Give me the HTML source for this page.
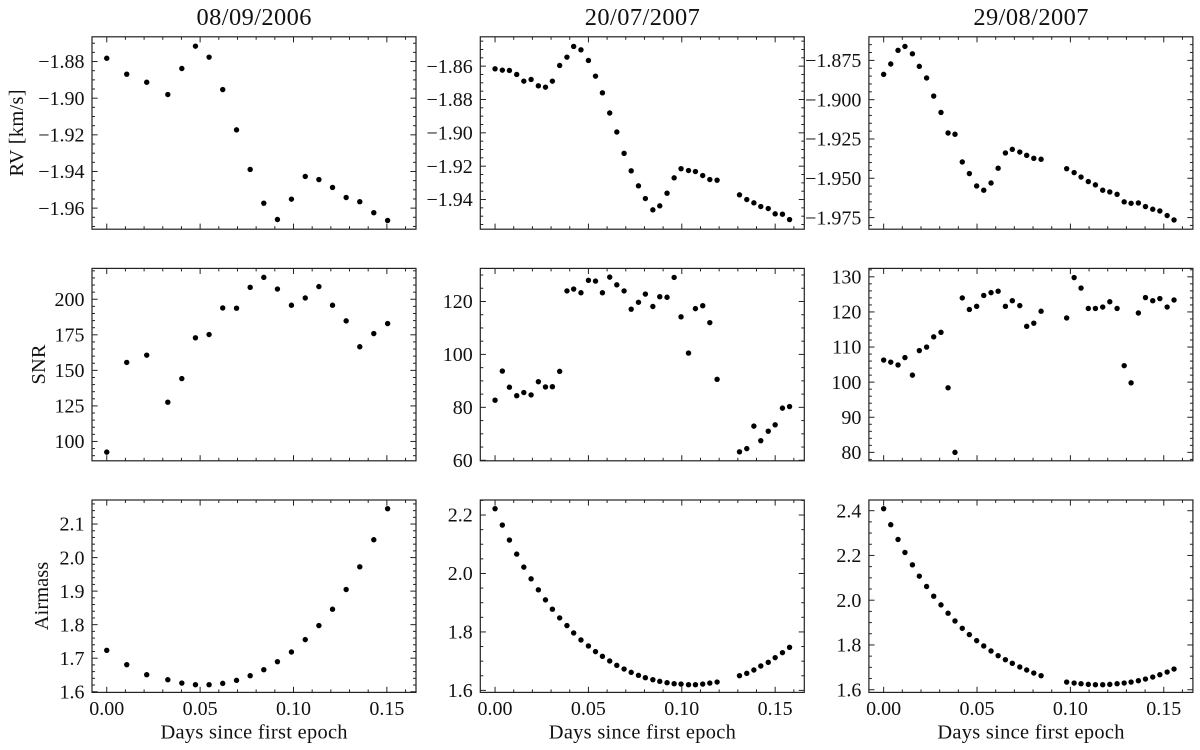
<!DOCTYPE html>
<html lang="en">
<head>
<meta charset="utf-8">
<title>RV, SNR and Airmass by epoch</title>
<style>
html,body{margin:0;padding:0;background:#fff;}
svg{display:block;}
text{font-family:"Liberation Serif",serif;fill:#111;}
.tick-text{font-size:20px;}
.axis-text{font-size:20.4px;}
.title-text{font-size:24.4px;}
</style>
</head>
<body>
<svg id="chart" xmlns="http://www.w3.org/2000/svg" width="1200" height="750" viewBox="0 0 1200 750"></svg>
<script>
// ---------- shared x domain ----------
const xLimits = [-0.0079, 0.1656];
const xTicks = ['0.00', '0.05', '0.10', '0.15'];
const xMinorStep = 0.01;

// ---------- epochs ----------
const epochs = ['08/09/2006', '20/07/2007', '29/08/2007'];

const days2006 = [0, .0107, .0214, .0327, .0402, .0475, .0548, .0621, .0695, .0768, .0841, .0914, .0989, .1063, .1136, .1209, .1282, .1355, .143, .1504];
const days2007a = [0, .0039, .0077, .0116, .0154, .0193, .0232, .027, .0307, .0346, .0385, .0421, .046, .05, .0538, .0575, .0614, .0652, .0691, .0729, .0768, .0805, .0845, .0882, .0921, .0959, .0996, .1036, .1073, .1112, .115, .1189, .1309, .1348, .1386, .1423, .1463, .15, .1539, .1577];
const days2007b = [0, .0038, .0077, .0114, .0154, .0191, .023, .0268, .0307, .0345, .0382, .0421, .0459, .0498, .0536, .0575, .0613, .0652, .0689, .0729, .0766, .0804, .0843, .098, .102, .1057, .1096, .1134, .1173, .1211, .125, .1288, .1325, .1364, .1402, .1441, .1479, .1518, .1555];

// ---------- RV [km/s] ----------
const rv2006 = [-1.8782, -1.8869, -1.8913, -1.898, -1.8838, -1.8716, -1.8776, -1.8953, -1.9173, -1.9389, -1.9573, -1.9662, -1.9551, -1.9427, -1.9444, -1.9487, -1.9542, -1.9565, -1.9625, -1.9667];
const rv2007a = [-1.8616, -1.8624, -1.8626, -1.865, -1.869, -1.868, -1.8718, -1.8726, -1.869, -1.8596, -1.8546, -1.8482, -1.8502, -1.8566, -1.866, -1.876, -1.8881, -1.8995, -1.9123, -1.9228, -1.9318, -1.9394, -1.9462, -1.9438, -1.9362, -1.927, -1.9215, -1.9226, -1.9232, -1.9256, -1.928, -1.9284, -1.9372, -1.94, -1.942, -1.9442, -1.9454, -1.9486, -1.9488, -1.952];
const rv2007b = [-1.8839, -1.8773, -1.8686, -1.8661, -1.8708, -1.8788, -1.8862, -1.8977, -1.9081, -1.9212, -1.922, -1.9396, -1.947, -1.9549, -1.9576, -1.953, -1.9436, -1.9339, -1.9316, -1.9333, -1.9354, -1.9373, -1.9379, -1.9439, -1.9464, -1.9492, -1.9521, -1.9542, -1.9576, -1.9587, -1.9602, -1.965, -1.9659, -1.9657, -1.968, -1.9697, -1.9708, -1.9737, -1.9765];

// ---------- SNR ----------
const snr2006 = [92.5, 155.6, 160.7, 127.6, 144.2, 172.9, 175.2, 193.9, 193.7, 208.4, 215.4, 207.2, 195.8, 200.9, 208.9, 195.8, 184.8, 166.6, 175.9, 182.9];
const snr2007a = [82.7, 93.7, 87.6, 84.4, 85.6, 84.7, 89.7, 87.7, 87.8, 93.6, 124, 124.7, 123.3, 128, 127.7, 123.3, 129.2, 126.3, 124, 117.1, 119.7, 122.8, 118.1, 121.8, 121.6, 129.1, 114.2, 100.5, 117.3, 118.4, 112, 90.6, 63.2, 64.4, 72.9, 67.4, 71, 73.4, 79.7, 80.3];
const snr2007b = [106.3, 105.7, 104.9, 107, 102, 109, 110, 112.9, 114.2, 98.4, 80, 124, 120.7, 121.6, 124.7, 125.5, 125.9, 121.6, 123.2, 121.8, 115.9, 116.8, 120.2, 118.3, 129.8, 126.8, 121, 121, 121.4, 122.9, 121, 104.7, 99.8, 119.7, 124.1, 123.2, 123.8, 121.4, 123.4];

// ---------- Airmass ----------
const air2006 = [1.7235, 1.6807, 1.6508, 1.6359, 1.6259, 1.6209, 1.6209, 1.6249, 1.6339, 1.6478, 1.6657, 1.6896, 1.7185, 1.7554, 1.7972, 1.846, 1.9048, 1.9725, 2.0532, 2.1458];
const air2007a = [2.2217, 2.1657, 2.1143, 2.0663, 2.0217, 1.9817, 1.944, 1.9097, 1.8777, 1.848, 1.8217, 1.7966, 1.7726, 1.752, 1.7326, 1.7166, 1.7006, 1.6857, 1.6731, 1.6617, 1.6514, 1.6434, 1.6366, 1.6309, 1.6263, 1.6229, 1.6217, 1.6194, 1.6194, 1.6217, 1.6251, 1.6286, 1.6503, 1.6583, 1.6697, 1.6834, 1.696, 1.712, 1.7291, 1.7474];
const air2007b = [2.409, 2.3373, 2.2716, 2.2134, 2.1582, 2.1075, 2.0612, 2.0179, 1.9791, 1.9418, 1.9075, 1.8746, 1.8463, 1.8194, 1.7955, 1.7731, 1.7522, 1.7343, 1.7179, 1.7015, 1.6881, 1.6746, 1.6627, 1.6343, 1.6299, 1.6269, 1.6239, 1.6224, 1.6224, 1.6239, 1.6269, 1.6299, 1.6343, 1.6403, 1.6478, 1.6567, 1.6672, 1.6791, 1.6925];

// ---------- y axis limits ----------
const rvLimits2006 = [-1.9715, -1.8665];
const rvLimits2007a = [-1.9578, -1.8424];
const rvLimits2007b = [-1.9824, -1.86];
const snrLimits2006 = [86.4, 221.7];
const snrLimits2007a = [59.8, 132.5];
const snrLimits2007b = [77.6, 132.4];
const airLimits2006 = [1.598, 2.1717];
const airLimits2007a = [1.5931, 2.2514];
const airLimits2007b = [1.588, 2.4478];

// ---------- y tick labels ----------
const rvTicks2006 = ['-1.88', '-1.90', '-1.92', '-1.94', '-1.96'];
const rvTicks2007a = ['-1.86', '-1.88', '-1.90', '-1.92', '-1.94'];
const rvTicks2007b = ['-1.875', '-1.900', '-1.925', '-1.950', '-1.975'];
const snrTicks2006 = ['100', '125', '150', '175', '200'];
const snrTicks2007a = ['60', '80', '100', '120'];
const snrTicks2007b = ['80', '90', '100', '110', '120', '130'];
const airTicks2006 = ['1.6', '1.7', '1.8', '1.9', '2.0', '2.1'];
const airTicks2007a = ['1.6', '1.8', '2.0', '2.2'];
const airTicks2007b = ['1.6', '1.8', '2.0', '2.2', '2.4'];

// ---------- minor tick subdivisions per major interval ----------
const rvSubs = [4, 4, 5];
const snrSubs = [5, 4, 5];
const airSubs = [5, 4, 4];

const metricNames = ['rv', 'snr', 'airmass'];
const daysByColumn = [days2006, days2007a, days2007b];
const valuesByRow = [[rv2006, rv2007a, rv2007b], [snr2006, snr2007a, snr2007b], [air2006, air2007a, air2007b]];
const limitsByRow = [[rvLimits2006, rvLimits2007a, rvLimits2007b], [snrLimits2006, snrLimits2007a, snrLimits2007b], [airLimits2006, airLimits2007a, airLimits2007b]];
const ticksByRow = [[rvTicks2006, rvTicks2007a, rvTicks2007b], [snrTicks2006, snrTicks2007a, snrTicks2007b], [airTicks2006, airTicks2007a, airTicks2007b]];
const subsByRow = [rvSubs, snrSubs, airSubs];

// ---------- layout ----------
const columnLeft = [92, 480.3, 868.9];
const rowTop = [36.8, 268.4, 500];
const panelWidth = 324;
const panelHeight = 192.4;
const NS = 'http://www.w3.org/2000/svg';
const svg = document.getElementById('chart');
const INK = '#222';

function make(tag, attrs, parent) {
  const el = document.createElementNS(NS, tag);
  for (const k in attrs) el.setAttribute(k, attrs[k]);
  parent.appendChild(el);
  return el;
}
function scale(domain, r0, r1) {
  return v => r0 + (v - domain[0]) / (domain[1] - domain[0]) * (r1 - r0);
}
function tickMark(parent, x1, y1, x2, y2, w) {
  const t = make('line', {x1: x1, y1: y1, x2: x2, y2: y2, stroke: INK, 'stroke-width': w}, parent);
  
  
}
function pretty(s) { return s.replace('-', '\u2212'); }

for (let row = 0; row < 3; row++) {
  for (let col = 0; col < 3; col++) {
    const L = columnLeft[col], T = rowTop[row], R = L + panelWidth, B = T + panelHeight;
    const xs = scale(xLimits, L, R);
    const ylim = limitsByRow[row][col];
    const ys = scale(ylim, B, T);
    const panelName = metricNames[row] + '-panel-' + epochs[col].replace(/\//g, '-');

    const g = make('g', {}, svg);
    
    

    const ticksGroup = make('g', {}, g);
    
    

    // x ticks (major and minor, inward, both sides)
    for (const lab of xTicks) {
      const x = xs(parseFloat(lab));
      tickMark(ticksGroup, x, B, x, B - 5.6, 1);
      tickMark(ticksGroup, x, T, x, T + 5.6, 1);
    }
    for (let i = 0; i <= 16; i++) {
      const v = i * xMinorStep;
      if (i % 5 === 0) continue;
      const x = xs(v);
      tickMark(ticksGroup, x, B, x, B - 3, 1);
      tickMark(ticksGroup, x, T, x, T + 3, 1);
    }
    // y ticks
    const labels = ticksByRow[row][col];
    const vals = labels.map(parseFloat).sort((a, b) => a - b);
    const step = vals[1] - vals[0];
    const subs = subsByRow[row][col];
    for (const v of vals) {
      const y = ys(v);
      tickMark(ticksGroup, L, y, L + 5.6, y, 1);
      tickMark(ticksGroup, R, y, R - 5.6, y, 1);
    }
    for (let k = -1; k < vals.length; k++) {
      for (let s = 1; s < subs; s++) {
        const v = vals[0] + (k + s / subs) * step;
        if (v <= ylim[0] || v >= ylim[1]) continue;
        const y = ys(v);
        tickMark(ticksGroup, L, y, L + 3, y, 1);
        tickMark(ticksGroup, R, y, R - 3, y, 1);
      }
    }

    // frame
    const frame = make('rect', {x: L, y: T, width: panelWidth, height: panelHeight, fill: 'none', stroke: INK, 'stroke-width': 1.2}, g);
    
    

    // y tick labels
    for (const lab of labels) {
      const t = make('text', {x: L - 7.5, y: ys(parseFloat(lab)) + 6.7, 'text-anchor': 'end', 'class': 'tick-text'}, g);
      
      
      t.textContent = pretty(lab);
    }

    // x tick labels, bottom row only
    if (row === 2) {
      for (const lab of xTicks) {
        const t = make('text', {x: xs(parseFloat(lab)), y: 715, 'text-anchor': 'middle', 'class': 'tick-text'}, g);
        
        
        t.textContent = lab;
      }
      const xl = make('text', {x: L + panelWidth / 2, y: 738.6, 'text-anchor': 'middle', 'class': 'axis-text', textLength: 187, lengthAdjust: 'spacing'}, g);
      
      
      xl.textContent = 'Days since first epoch';
    }

    // titles, top row only
    if (row === 0) {
      const tt = make('text', {x: L + panelWidth / 2, y: 25, 'text-anchor': 'middle', 'class': 'title-text', textLength: 115, lengthAdjust: 'spacing'}, g);
      
      
      tt.textContent = epochs[col];
    }

    // points
    const pts = make('g', {}, g);
    
    
    const xv = daysByColumn[col], yv = valuesByRow[row][col];
    for (let i = 0; i < xv.length; i++) {
      const c = make('circle', {cx: xs(xv[i]), cy: ys(yv[i]), r: 2.7, fill: '#000'}, pts);
      
      
    }
  }
}

// y axis titles
function yTitle(label, x, y, len, name) {
  const t = make('text', {transform: 'translate(' + x + ',' + y + ') rotate(-90)', 'text-anchor': 'middle', 'class': 'axis-text', textLength: len, lengthAdjust: 'spacing'}, svg);
  
  
  t.textContent = label;
}
yTitle('RV [km/s]', 23, 133, 87, 'rv-y-axis-title');
yTitle('SNR', 45, 364.5, 40, 'snr-y-axis-title');
yTitle('Airmass', 48, 596, 68.5, 'airmass-y-axis-title');
</script>
</body>
</html>
